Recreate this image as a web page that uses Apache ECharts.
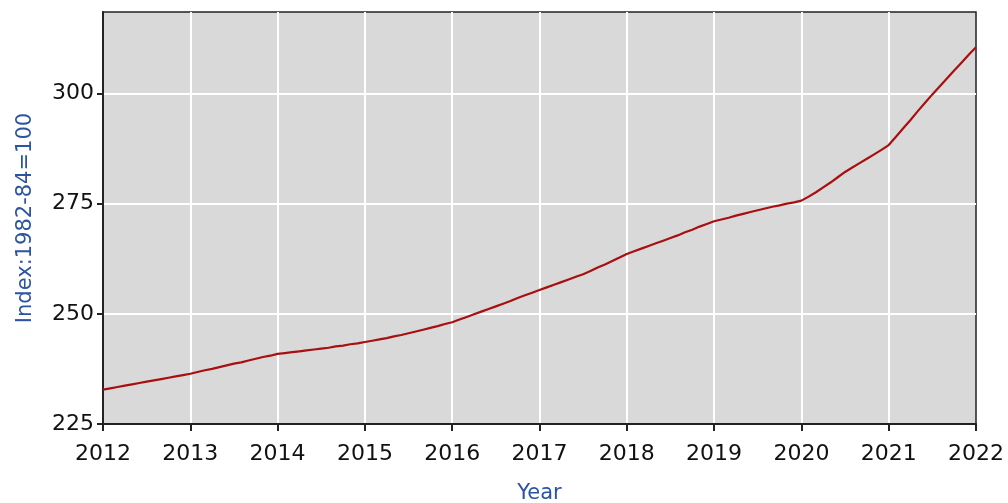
<!DOCTYPE html>
<html>
<head>
<meta charset="utf-8">
<script src="https://cdn.jsdelivr.net/npm/echarts@6/dist/echarts.min.js"></script>
<style>
html,body{margin:0;padding:0;background:#fff;}
#chart{width:1008px;height:503px;}
</style>
</head>
<body>
<div id="chart"></div>
<script>
// Monthly index values, Jan 2012 .. Jan 2022
const startYear = 2012;
const values2012 = [232.8, 233.1, 233.4, 233.7, 234.0, 234.3, 234.6, 234.9, 235.2, 235.5, 235.8, 236.1];
const values2013 = [236.4, 236.8, 237.2, 237.5, 237.9, 238.3, 238.7, 239.0, 239.4, 239.8, 240.2, 240.5];
const values2014 = [240.9, 241.1, 241.3, 241.5, 241.7, 241.9, 242.1, 242.3, 242.6, 242.8, 243.1, 243.3];
const values2015 = [243.6, 243.9, 244.2, 244.5, 244.9, 245.2, 245.6, 246.0, 246.4, 246.8, 247.2, 247.7];
const values2016 = [248.1, 248.7, 249.3, 249.9, 250.5, 251.1, 251.7, 252.3, 252.9, 253.6, 254.2, 254.8];
const values2017 = [255.4, 256.0, 256.6, 257.2, 257.8, 258.4, 259.0, 259.7, 260.5, 261.2, 262.0, 262.8];
const values2018 = [263.6, 264.2, 264.8, 265.4, 266.0, 266.6, 267.2, 267.8, 268.5, 269.1, 269.8, 270.4];
const values2019 = [271.0, 271.4, 271.8, 272.3, 272.7, 273.1, 273.5, 273.9, 274.3, 274.6, 275.0, 275.3];
const values2020 = [275.7, 276.6, 277.6, 278.7, 279.8, 281.0, 282.2, 283.2, 284.2, 285.2, 286.2, 287.2];
const values2021 = [288.3, 290.2, 292.1, 294.0, 296.0, 297.9, 299.8, 301.6, 303.4, 305.2, 307.0, 308.8];
const values2022 = [310.5];

const yTickValues = [225, 250, 275, 300];
const xTickYears = [2012, 2013, 2014, 2015, 2016, 2017, 2018, 2019, 2020, 2021, 2022];
const yAxisTitle = 'Index:1982-84=100';
const xAxisTitle = 'Year';

const allValues = [].concat(values2012, values2013, values2014, values2015, values2016,
  values2017, values2018, values2019, values2020, values2021, values2022);
const seriesData = allValues.map((v, i) => [startYear + i / 12, v]);

const chart = echarts.init(document.getElementById('chart'), null, {renderer: 'canvas'});
const font = 'DejaVu Sans, Verdana, sans-serif';
chart.setOption({
  animation: false,
  backgroundColor: '#ffffff',
  grid: {
    left: 103, right: 32, top: 12, bottom: 79,
    containLabel: false, outerBoundsMode: 'none',
    show: true, backgroundColor: '#d9d9d9', borderColor: '#222', borderWidth: 1.5
  },
  xAxis: {
    type: 'value',
    min: xTickYears[0], max: xTickYears[xTickYears.length - 1], interval: 1,
    name: xAxisTitle, nameLocation: 'middle', nameGap: 59,
    nameTextStyle: {color: '#2b54a3', fontSize: 21, fontFamily: font},
    axisLine: {show: true, lineStyle: {color: '#222', width: 2}},
    axisTick: {show: true, length: 7, lineStyle: {color: '#222', width: 2}},
    axisLabel: {color: '#111', fontSize: 22, fontFamily: font, margin: 19,
      formatter: v => String(Math.round(v))},
    splitLine: {show: true, showMinLine: false, showMaxLine: false, lineStyle: {color: '#ffffff', width: 2}}
  },
  yAxis: {
    type: 'value',
    min: yTickValues[0], max: 318.5, interval: 25,
    name: yAxisTitle, nameLocation: 'middle', nameGap: 67, nameRotate: 90,
    nameTextStyle: {color: '#2b54a3', fontSize: 21, fontFamily: font},
    axisLine: {show: true, lineStyle: {color: '#222', width: 2}},
    axisTick: {show: true, length: 6, lineStyle: {color: '#222', width: 2}},
    axisLabel: {color: '#111', fontSize: 22, fontFamily: font, margin: 9, showMaxLabel: false,
      formatter: v => (yTickValues.indexOf(v) >= 0 ? String(v) : '')},
    splitLine: {show: true, showMinLine: false, showMaxLine: false, lineStyle: {color: '#ffffff', width: 2}}
  },
  series: [{
    type: 'line',
    data: seriesData,
    showSymbol: false,
    lineStyle: {color: '#a80f0f', width: 2.2},
    clip: true
  }]
});
</script>
</body>
</html>
